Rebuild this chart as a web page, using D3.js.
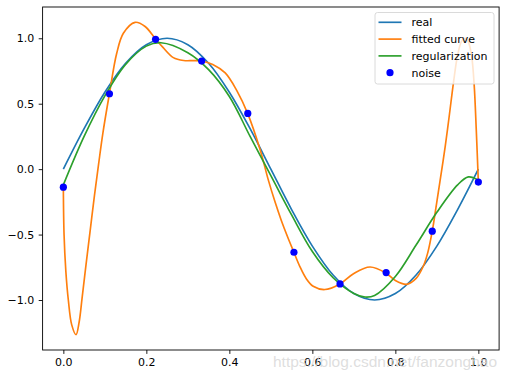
<!DOCTYPE html>
<html>
<head>
<meta charset="utf-8">
<script src="https://cdn.jsdelivr.net/npm/d3@7"></script>
<style>
  html, body { margin: 0; padding: 0; background: #fff; }
  svg { display: block; font-family: "DejaVu Sans", sans-serif; }
</style>
</head>
<body>
<svg id="chart" width="510" height="377"></svg>
<script>
// ---- data ----
const realX = [0,0.05,0.1,0.15,0.2,0.25,0.3,0.35,0.4,0.45,0.5,0.55,0.6,0.65,0.7,0.75,0.8,0.85,0.9,0.95,1.0];
const realY = [0,0.309,0.588,0.809,0.951,1.0,0.951,0.809,0.588,0.309,0,-0.309,-0.588,-0.809,-0.951,-1.0,-0.951,-0.809,-0.588,-0.309,0];

const fitX = [0,0.0017,0.006,0.012,0.0202,0.0306,0.038,0.045,0.055,0.065,0.075,0.085,0.095,0.111,0.1286,0.1446,0.1728,0.197,0.2227,0.24,0.265,0.29,0.313,0.333,0.36,0.39,0.418,0.444,0.474,0.494,0.51,0.525,0.54,0.5555,0.57,0.585,0.602,0.63,0.6667,0.70,0.739,0.7778,0.80,0.8275,0.85,0.8675,0.878,0.8889,0.898,0.9077,0.92,0.93,0.94,0.95,0.96,0.968,0.976,0.984,0.990,0.995,1.0];
const fitY = [-0.138,-0.5,-0.78,-1.0,-1.19,-1.265,-1.17,-0.99,-0.72,-0.46,-0.20,0.04,0.27,0.576,0.885,1.038,1.122,1.09,0.992,0.93,0.852,0.83,0.829,0.826,0.80,0.735,0.60,0.426,0.15,-0.084,-0.25,-0.39,-0.515,-0.635,-0.745,-0.835,-0.895,-0.92,-0.877,-0.797,-0.748,-0.795,-0.851,-0.88,-0.835,-0.74,-0.64,-0.474,-0.29,-0.09,0.17,0.41,0.66,0.87,0.98,1.0,0.97,0.86,0.64,0.30,-0.099];

const regX = [0,0.05,0.1,0.15,0.2,0.235,0.3,0.35,0.4,0.45,0.5,0.55,0.6,0.65,0.7,0.727,0.75,0.8,0.85,0.9,0.95,0.976,1.0];
const regY = [-0.12,0.25,0.56,0.80,0.94,0.966,0.89,0.76,0.555,0.25,-0.05,-0.35,-0.63,-0.83,-0.95,-0.977,-0.965,-0.82,-0.58,-0.33,-0.12,-0.059,-0.084];

const noiseX = [0,0.1111,0.2222,0.3333,0.4444,0.5556,0.6667,0.7778,0.8889,1.0];
const noiseY = [-0.138,0.576,0.992,0.826,0.426,-0.635,-0.877,-0.790,-0.474,-0.099];

const xTicks = [0,0.2,0.4,0.6,0.8,1.0];
const xTickLabels = ["0.0","0.2","0.4","0.6","0.8","1.0"];
const yTicks = [-1.0,-0.5,0,0.5,1.0];
const yTickLabels = ["\u22121.0","\u22120.5","0.0","0.5","1.0"];

const legendLabels = ["real","fitted curve","regularization","noise"];
const watermark = "https://blog.csdn.net/fanzonghao";

// ---- layout ----
const svg = d3.select("#chart");
const L = 42.6, R = 499.1, T = 7, B = 350;
const x = d3.scaleLinear().domain([-0.05, 1.05]).range([L, R]);
const y = d3.scaleLinear().domain([-1.382, 1.239]).range([B, T]);

const colors = { real: "#1f77b4", fit: "#ff7f0e", reg: "#2ca02c", noise: "#0000ff" };

svg.append("defs").append("clipPath").attr("id", "clip")
  .append("rect").attr("x", L).attr("y", T).attr("width", R - L).attr("height", B - T);

const plot = svg.append("g").attr("clip-path", "url(#clip)");

const line = d3.line().x(d => x(d[0])).y(d => y(d[1])).curve(d3.curveCatmullRom.alpha(0.5));

function series(xs, ys) { return xs.map((v, i) => [v, ys[i]]); }

plot.append("path").datum(series(realX, realY))
  .attr("d", line).attr("fill", "none").attr("stroke", colors.real).attr("stroke-width", 1.67);
plot.append("path").datum(series(fitX, fitY))
  .attr("d", line).attr("fill", "none").attr("stroke", colors.fit).attr("stroke-width", 1.67);
plot.append("path").datum(series(regX, regY))
  .attr("d", line).attr("fill", "none").attr("stroke", colors.reg).attr("stroke-width", 1.67);

svg.append("g").selectAll("circle").data(series(noiseX, noiseY)).join("circle")
  .attr("cx", d => x(d[0])).attr("cy", d => y(d[1])).attr("r", 3.6)
  .attr("fill", colors.noise);

// ---- axes ----
const xAxis = d3.axisBottom(x).tickValues(xTicks).tickFormat((d, i) => xTickLabels[i])
  .tickSize(3.9).tickPadding(4.5);
const yAxis = d3.axisLeft(y).tickValues(yTicks).tickFormat((d, i) => yTickLabels[i])
  .tickSize(3.9).tickPadding(4.5);

const gx = svg.append("g").attr("transform", `translate(0,${B})`).call(xAxis);
const gy = svg.append("g").attr("transform", `translate(${L},0)`).call(yAxis);
[gx, gy].forEach(g => {
  g.select(".domain").remove();
  g.selectAll(".tick line").attr("stroke", "#000").attr("stroke-width", 0.9);
  g.selectAll(".tick text").attr("fill", "#000").style("font-size", "11px")
    .style("font-family", "DejaVu Sans, sans-serif");
});

// spines
svg.append("rect").attr("x", L).attr("y", T).attr("width", R - L).attr("height", B - T)
  .attr("fill", "none").attr("stroke", "#000").attr("stroke-width", 0.9);

// ---- legend ----
const lg = svg.append("g");
const lx = 375, ly = 12.5, lw = 119, lh = 71.5;
lg.append("rect").attr("x", lx).attr("y", ly).attr("width", lw).attr("height", lh)
  .attr("rx", 2.5).attr("fill", "#fff").attr("fill-opacity", 0.8)
  .attr("stroke", "#d6d6d6").attr("stroke-width", 0.9);
const legendColors = [colors.real, colors.fit, colors.reg, colors.noise];
legendLabels.forEach((lab, i) => {
  const cy = 22.3 + i * 16.8;
  if (i < 3) {
    lg.append("line").attr("x1", 378.5).attr("x2", 401.5).attr("y1", cy).attr("y2", cy)
      .attr("stroke", legendColors[i]).attr("stroke-width", 1.67);
  } else {
    lg.append("circle").attr("cx", 390).attr("cy", cy).attr("r", 3.6).attr("fill", legendColors[i]);
  }
  lg.append("text").attr("x", 411.5).attr("y", cy).attr("dy", "0.36em")
    .style("font-size", "11px").attr("fill", "#000").text(lab);
});

// ---- watermark ----
svg.append("text").attr("x", 273).attr("y", 367)
  .style("font-family", "Liberation Sans, Arial, sans-serif").style("font-size", "15.5px")
  .attr("fill", "#d8d8d8").attr("fill-opacity", 0.85).text(watermark);
</script>
</body>
</html>
